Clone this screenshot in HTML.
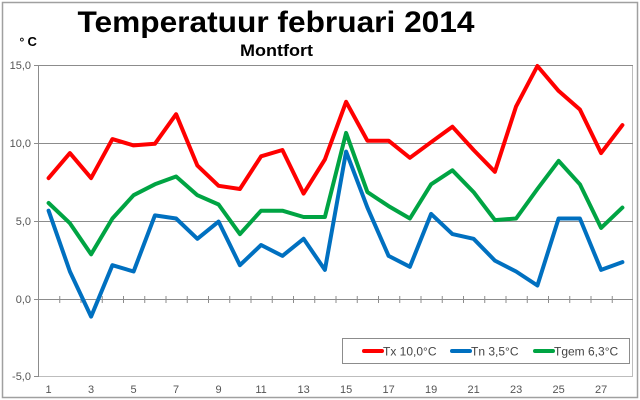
<!DOCTYPE html>
<html><head><meta charset="utf-8"><style>
html,body{margin:0;padding:0;background:#fff;}
svg{display:block;font-family:"Liberation Sans",Arial,sans-serif;}
</style></head><body>
<svg width="640" height="400" viewBox="0 0 640 400" xmlns="http://www.w3.org/2000/svg">
<rect x="0" y="0" width="640" height="400" fill="#fff"/>
<rect x="2.5" y="2.5" width="635" height="395" fill="#fff" stroke="#a0a0a0" stroke-width="1.5"/>
<text x="276" y="32" font-size="30" font-weight="bold" text-anchor="middle" fill="#000" textLength="397" lengthAdjust="spacingAndGlyphs">Temperatuur februari 2014</text>
<text x="276.5" y="56" font-size="17" font-weight="bold" text-anchor="middle" fill="#000" textLength="73" lengthAdjust="spacingAndGlyphs">Montfort</text>
<text x="19.5" y="46" font-size="12" font-weight="bold" fill="#000">°</text>
<text x="27.5" y="46" font-size="13" font-weight="bold" fill="#000">C</text>
<!-- plot area -->
<rect x="38.5" y="65.5" width="594" height="311" fill="#fff" stroke="#bdbdbd" stroke-width="1"/>
<g stroke="#8c8c8c" stroke-width="1">
<line x1="38" y1="65.5" x2="633" y2="65.5"/>
<line x1="38" y1="143.5" x2="633" y2="143.5"/>
<line x1="38" y1="221.5" x2="633" y2="221.5"/>
<line x1="38" y1="299.5" x2="633" y2="299.5"/>
<line x1="38.5" y1="65" x2="38.5" y2="377"/>
<line x1="34" y1="65.5" x2="38" y2="65.5"/>
<line x1="34" y1="143.5" x2="38" y2="143.5"/>
<line x1="34" y1="221.5" x2="38" y2="221.5"/>
<line x1="34" y1="299.5" x2="38" y2="299.5"/>
<line x1="34" y1="376.5" x2="38" y2="376.5"/>
</g>
<g font-size="11" fill="#555" text-anchor="end">
<text x="31" y="69">15,0</text>
<text x="31" y="147">10,0</text>
<text x="31" y="225">5,0</text>
<text x="31" y="303">0,0</text>
<text x="31" y="380">-5,0</text>
</g>
<g font-size="11" fill="#555" text-anchor="middle">
<text x="48.6" y="393">1</text>
<text x="91.1" y="393">3</text>
<text x="133.6" y="393">5</text>
<text x="176.1" y="393">7</text>
<text x="218.6" y="393">9</text>
<text x="261.1" y="393">11</text>
<text x="303.6" y="393">13</text>
<text x="346.1" y="393">15</text>
<text x="388.6" y="393">17</text>
<text x="431.1" y="393">19</text>
<text x="473.6" y="393">21</text>
<text x="516.1" y="393">23</text>
<text x="558.6" y="393">25</text>
<text x="601.1" y="393">27</text>
</g>
<g stroke="#8c8c8c" stroke-width="1">
<line x1="59.75" y1="296" x2="59.75" y2="303"/><line x1="81" y1="296" x2="81" y2="303"/><line x1="102.25" y1="296" x2="102.25" y2="303"/><line x1="123.5" y1="296" x2="123.5" y2="303"/><line x1="144.75" y1="296" x2="144.75" y2="303"/><line x1="166" y1="296" x2="166" y2="303"/><line x1="187.25" y1="296" x2="187.25" y2="303"/><line x1="208.5" y1="296" x2="208.5" y2="303"/><line x1="229.75" y1="296" x2="229.75" y2="303"/><line x1="251" y1="296" x2="251" y2="303"/><line x1="272.25" y1="296" x2="272.25" y2="303"/><line x1="293.5" y1="296" x2="293.5" y2="303"/><line x1="314.75" y1="296" x2="314.75" y2="303"/><line x1="336" y1="296" x2="336" y2="303"/><line x1="357.25" y1="296" x2="357.25" y2="303"/><line x1="378.5" y1="296" x2="378.5" y2="303"/><line x1="399.75" y1="296" x2="399.75" y2="303"/><line x1="421" y1="296" x2="421" y2="303"/><line x1="442.25" y1="296" x2="442.25" y2="303"/><line x1="463.5" y1="296" x2="463.5" y2="303"/><line x1="484.75" y1="296" x2="484.75" y2="303"/><line x1="506" y1="296" x2="506" y2="303"/><line x1="527.25" y1="296" x2="527.25" y2="303"/><line x1="548.5" y1="296" x2="548.5" y2="303"/><line x1="569.75" y1="296" x2="569.75" y2="303"/><line x1="591" y1="296" x2="591" y2="303"/><line x1="612.25" y1="296" x2="612.25" y2="303"/>
</g>
<g fill="none" stroke-width="4" stroke-linejoin="round" stroke-linecap="round">
<polyline stroke="#ff0000" points="48.6,178.1 69.9,153.1 91.1,178.1 112.4,139.1 133.6,145.4 154.9,143.8 176.1,114.2 197.4,165.6 218.6,185.8 239.9,189.0 261.1,156.3 282.4,150.0 303.6,193.6 324.9,159.4 346.1,101.8 367.4,140.7 388.6,140.7 409.9,157.8 431.1,142.2 452.4,126.7 473.6,150.0 494.9,171.8 516.1,106.4 537.4,66.0 558.6,90.9 579.9,109.5 601.1,153.1 622.4,125.1"/>
<polyline stroke="#0070c0" points="48.6,210.7 69.9,271.5 91.1,316.6 112.4,265.2 133.6,271.5 154.9,215.4 176.1,218.5 197.4,238.8 218.6,221.6 239.9,265.2 261.1,245.0 282.4,255.9 303.6,238.8 324.9,269.9 346.1,151.6 367.4,207.6 388.6,255.9 409.9,266.8 431.1,213.9 452.4,234.1 473.6,238.8 494.9,260.6 516.1,271.5 537.4,285.5 558.6,218.5 579.9,218.5 601.1,269.9 622.4,262.1"/>
<polyline stroke="#00a443" points="48.6,203.0 69.9,223.2 91.1,254.3 112.4,218.5 133.6,195.2 154.9,184.3 176.1,176.5 197.4,195.2 218.6,204.5 239.9,234.1 261.1,210.7 282.4,210.7 303.6,217.0 324.9,217.0 346.1,132.9 367.4,192.1 388.6,206.1 409.9,218.5 431.1,184.3 452.4,170.3 473.6,192.1 494.9,220.1 516.1,218.5 537.4,189.0 558.6,160.9 579.9,184.3 601.1,227.9 622.4,207.6"/>
</g>
<rect x="342.5" y="338.5" width="287" height="25" fill="#fff" stroke="#8c8c8c" stroke-width="1"/>
<g stroke-width="4" stroke-linecap="round">
<line x1="364" y1="351" x2="382" y2="351" stroke="#ff0000"/>
<line x1="452" y1="351" x2="470" y2="351" stroke="#0070c0"/>
<line x1="535" y1="351" x2="553" y2="351" stroke="#00a443"/>
</g>
<g font-size="12" fill="#444">
<text x="383" y="355.5">Tx 10,0°C</text>
<text x="471" y="355.5">Tn 3,5°C</text>
<text x="554" y="355.5">Tgem 6,3°C</text>
</g>
</svg>
</body></html>
